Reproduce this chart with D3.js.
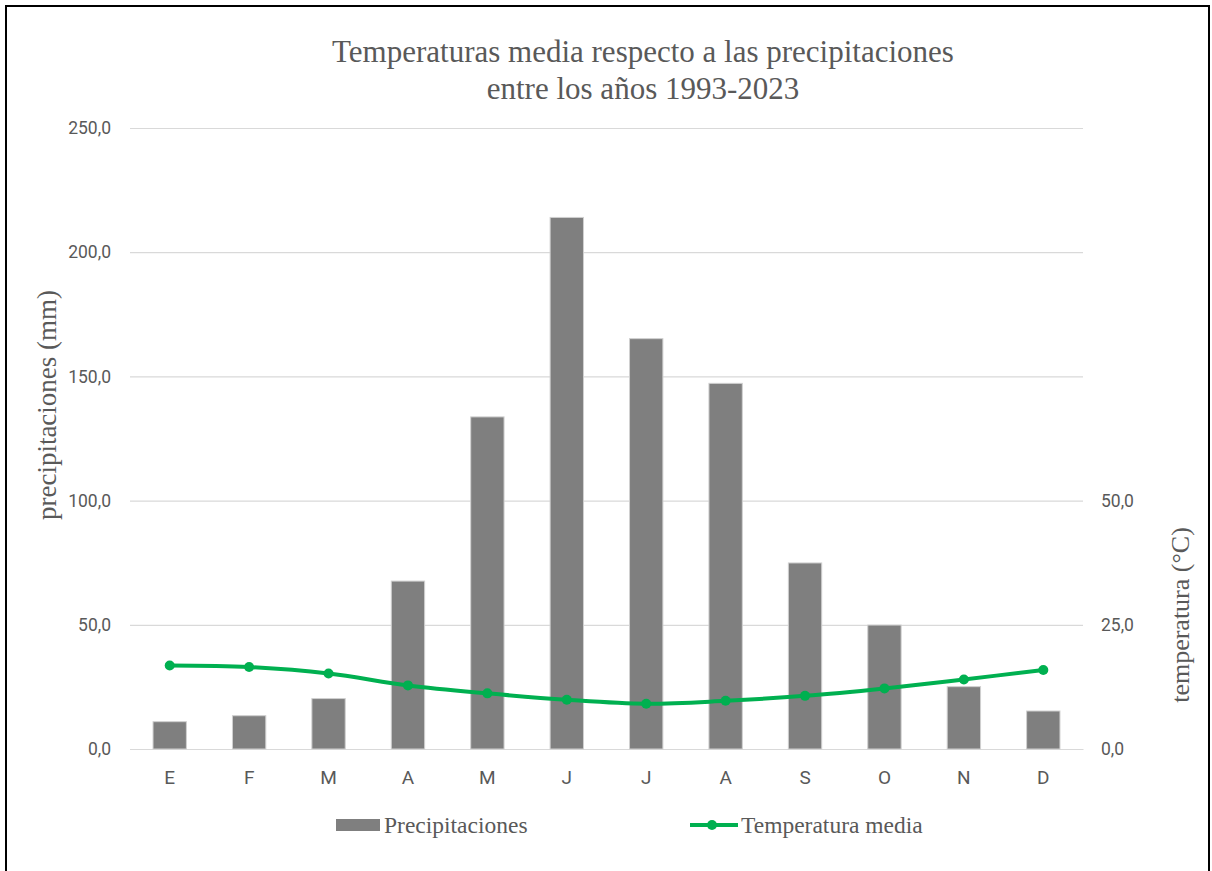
<!DOCTYPE html>
<html>
<head>
<meta charset="utf-8">
<script src="https://cdn.jsdelivr.net/npm/d3@7"></script>
<style>
  html, body { margin: 0; padding: 0; background: #fff; }
  svg { display: block; }
</style>
</head>
<body>
<svg id="chart" width="1212" height="871"></svg>
<script>
// Monthly climate data, 1993-2023
const months = ["E", "F", "M", "A", "M", "J", "J", "A", "S", "O", "N", "D"];
const precipitation = [11.0, 13.4, 20.3, 67.6, 133.7, 214.0, 165.2, 147.2, 74.9, 49.9, 25.1, 15.3];
const temperature = [16.8, 16.5, 15.2, 12.8, 11.2, 9.9, 9.1, 9.7, 10.7, 12.2, 14.0, 15.9];
const precipTicks = [0, 50, 100, 150, 200, 250];
const tempTicks = [0, 25, 50];

const svg = d3.select("#chart");
const margin = { left: 130, right: 1083, top: 128, bottom: 749 };

const textGray = "#595959";
const gridGray = "#d9d9d9";
const barFill = "#7f7f7f";
const green = "#00b050";
const fmt = v => d3.format(".1f")(v).replace(".", ",");

// Frame
svg.append("rect")
  .attr("x", 6).attr("y", 6).attr("width", 1203).attr("height", 880)
  .attr("fill", "#fff").attr("stroke", "#000").attr("stroke-width", 2);

const idx = months.map((_, i) => i);
const x = d3.scaleBand().domain(idx).range([margin.left, margin.right]).paddingInner(0.58).paddingOuter(0.29);
const xc = d3.scaleBand().domain(idx).range([margin.left, margin.right]);
const yL = d3.scaleLinear().domain([0, 250]).range([margin.bottom, margin.top]);
const yR = d3.scaleLinear().domain([0, 125]).range([margin.bottom, margin.top]);

// Gridlines and left axis
const left = svg.append("g").attr("transform", `translate(${margin.left},0)`)
  .call(d3.axisLeft(yL).tickValues(precipTicks).tickFormat(fmt)
    .tickSize(-(margin.right - margin.left)).tickPadding(19));
left.select(".domain").remove();
left.selectAll(".tick line").attr("stroke", gridGray).attr("stroke-width", 1.2);
left.selectAll(".tick text").attr("fill", textGray)
  .style("font-family", "Roboto, sans-serif").style("font-size", "17.5px");

// Right axis
const right = svg.append("g").attr("transform", `translate(${margin.right},0)`)
  .call(d3.axisRight(yR).tickValues(tempTicks).tickFormat(fmt).tickSize(0).tickPadding(18));
right.select(".domain").remove();
right.selectAll(".tick text").attr("fill", textGray)
  .style("font-family", "Roboto, sans-serif").style("font-size", "17.5px");

// Bottom axis (category labels)
const bottom = svg.append("g").attr("transform", `translate(0,${margin.bottom})`)
  .call(d3.axisBottom(xc).tickFormat(i => months[i]).tickSize(0).tickPadding(22));
bottom.select(".domain").attr("stroke", gridGray).attr("stroke-width", 1.2);
bottom.selectAll(".tick text").attr("fill", textGray)
  .style("font-family", "Roboto, sans-serif").style("font-size", "19px");

// Bars
svg.append("g").selectAll("rect").data(precipitation).join("rect")
  .attr("x", (d, i) => x(i))
  .attr("y", d => yL(d))
  .attr("width", x.bandwidth())
  .attr("height", d => yL(0) - yL(d))
  .attr("fill", barFill)
  .attr("stroke", "#d0d0d0").attr("stroke-width", 1);

// Temperature line
const cx = i => xc(i) + xc.bandwidth() / 2;
const line = d3.line().x((d, i) => cx(i)).y(d => yR(d)).curve(d3.curveCatmullRom.alpha(0.5));
svg.append("path").datum(temperature)
  .attr("d", line).attr("fill", "none")
  .attr("stroke", green).attr("stroke-width", 4).attr("stroke-linejoin", "round");
svg.append("g").selectAll("circle").data(temperature).join("circle")
  .attr("cx", (d, i) => cx(i)).attr("cy", d => yR(d)).attr("r", 5)
  .attr("fill", green);

// Title
const title = svg.append("text").attr("text-anchor", "middle")
  .attr("fill", textGray).style("font-family", "'Liberation Serif', 'Times New Roman', serif")
  .style("font-size", "31px");
title.append("tspan").attr("x", 643).attr("y", 62).text("Temperaturas media respecto a las precipitaciones");
title.append("tspan").attr("x", 643).attr("y", 99).text("entre los años 1993-2023");

// Axis titles
svg.append("text")
  .attr("transform", `translate(56,405) rotate(-90)`)
  .attr("text-anchor", "middle").attr("fill", textGray)
  .style("font-family", "'Liberation Serif', serif").style("font-size", "27px")
  .text("precipitaciones (mm)");
svg.append("text")
  .attr("transform", `translate(1189,615) rotate(-90)`)
  .attr("text-anchor", "middle").attr("fill", textGray)
  .style("font-family", "'Liberation Serif', serif").style("font-size", "26px")
  .text("temperatura (°C)");

// Legend
const lg = svg.append("g").style("font-family", "'Liberation Serif', serif").style("font-size", "23.5px");
lg.append("rect").attr("x", 336).attr("y", 819).attr("width", 44).attr("height", 12).attr("fill", barFill);
lg.append("text").attr("x", 384).attr("y", 833).attr("fill", textGray).text("Precipitaciones");
lg.append("line").attr("x1", 690).attr("x2", 738).attr("y1", 825).attr("y2", 825)
  .attr("stroke", green).attr("stroke-width", 4);
lg.append("circle").attr("cx", 712).attr("cy", 825).attr("r", 5).attr("fill", green);
lg.append("text").attr("x", 741).attr("y", 833).attr("fill", textGray).text("Temperatura media");
</script>
</body>
</html>
